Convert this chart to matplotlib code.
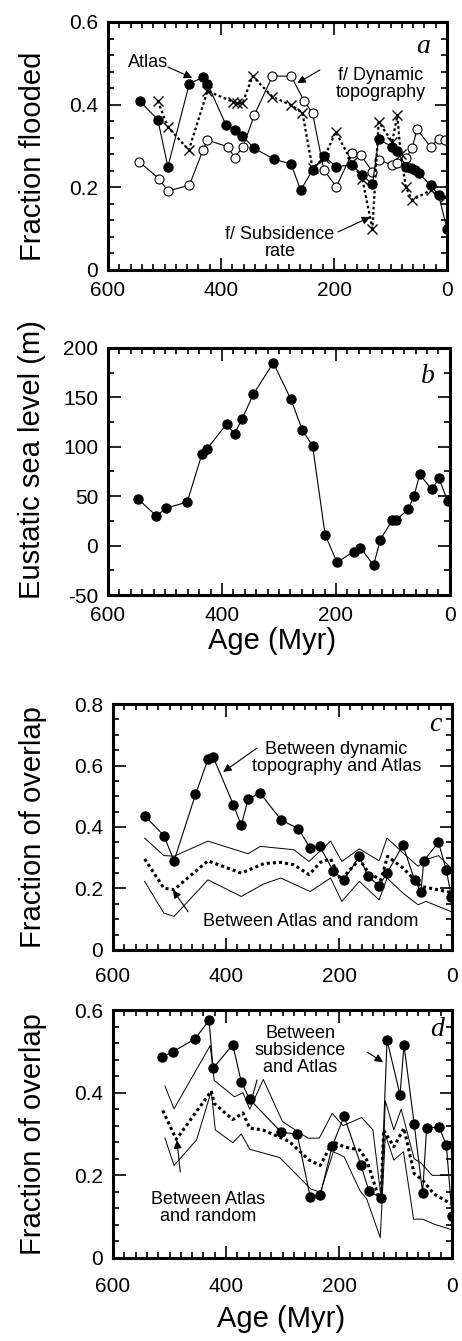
import matplotlib
matplotlib.use("Agg")
import matplotlib.pyplot as plt
from matplotlib.ticker import MultipleLocator, FuncFormatter

plt.rcParams["font.family"] = ["Liberation Sans", "DejaVu Sans"]

# --- panel a: fraction flooded ---
atlas_age = [544, 512, 494, 456, 432, 424, 391, 376, 362, 341, 306, 276, 259, 238,
             218, 196, 168, 150, 132, 121, 97, 88, 73, 64, 56, 50, 29, 15, 0]
atlas_frac = [0.409, 0.364, 0.250, 0.451, 0.466, 0.451, 0.350, 0.338, 0.324, 0.294,
              0.268, 0.256, 0.193, 0.242, 0.275, 0.250, 0.254, 0.230, 0.207, 0.316,
              0.298, 0.288, 0.250, 0.246, 0.242, 0.234, 0.205, 0.181, 0.100]
dyn_age = [545, 510, 494, 456, 432, 424, 388, 376, 361, 341, 309, 276, 253, 238,
           218, 196, 168, 153, 132, 121, 97, 88, 73, 62, 53, 29, 15, 3]
dyn_frac = [0.262, 0.221, 0.191, 0.205, 0.290, 0.314, 0.298, 0.272, 0.298, 0.375,
            0.469, 0.469, 0.409, 0.379, 0.242, 0.201, 0.283, 0.278, 0.238, 0.266,
            0.254, 0.258, 0.270, 0.294, 0.340, 0.298, 0.318, 0.314]
subs_age = [512, 494, 457, 424, 379, 371, 362, 344, 309, 276, 256, 238, 218, 197,
            168, 150, 132, 121, 97, 88, 82, 73, 62, 29, 3]
subs_frac = [0.409, 0.346, 0.290, 0.433, 0.407, 0.404, 0.403, 0.469, 0.419, 0.399,
             0.380, 0.246, 0.270, 0.334, 0.260, 0.220, 0.100, 0.358, 0.310, 0.374,
             0.280, 0.201, 0.169, 0.193, 0.177]

# --- panel b: eustatic sea level ---
sl_age = [547, 515, 498, 461, 435, 426, 392, 378, 365, 345, 310, 279, 259, 241,
          219, 198, 169, 157, 134, 122, 101, 94, 73, 63, 53, 32, 19, 4]
sl_level = [47, 30, 38, 44, 93, 98, 123, 113, 128, 153, 185, 148, 117, 101,
            11, -17, -6, -2, -20, 6, 26, 26, 37, 50, 72, 57, 68, 45]

# --- panel c: overlap dynamic topography vs Atlas ---
c_age = [544, 510, 492, 454, 432, 423, 387, 373, 361, 340, 302, 272, 251, 234,
         210, 191, 164, 149, 129, 115, 87, 66, 55, 50, 24, 10, 1]
c_overlap = [0.437, 0.372, 0.290, 0.506, 0.620, 0.629, 0.473, 0.405, 0.490, 0.511,
             0.422, 0.395, 0.331, 0.337, 0.256, 0.228, 0.305, 0.239, 0.209, 0.250,
             0.341, 0.226, 0.190, 0.290, 0.350, 0.259, 0.172]
c_mean_age = [544, 510, 492, 475, 432, 373, 333, 303, 280, 253, 233, 215, 197, 164,
              147, 126, 114, 87, 55, 31, 2]
c_mean = [0.296, 0.201, 0.196, 0.223, 0.290, 0.250, 0.281, 0.285, 0.277, 0.245,
          0.285, 0.297, 0.228, 0.294, 0.250, 0.228, 0.305, 0.267, 0.207, 0.198, 0.187]
c_hi_age = [544, 510, 492, 432, 361, 339, 280, 253, 215, 195, 164, 129, 115, 87,
            60, 46, 24, 2]
c_hi = [0.364, 0.307, 0.305, 0.354, 0.313, 0.337, 0.326, 0.288, 0.354, 0.288,
        0.329, 0.290, 0.364, 0.316, 0.272, 0.294, 0.307, 0.267]
c_lo_age = [544, 510, 492, 432, 373, 333, 303, 251, 215, 195, 164, 129, 115, 87,
            60, 46, 2]
c_lo = [0.223, 0.120, 0.109, 0.228, 0.174, 0.215, 0.234, 0.190, 0.234, 0.158,
        0.223, 0.163, 0.234, 0.185, 0.147, 0.158, 0.125]

# --- panel d: overlap subsidence vs Atlas ---
d_age = [514, 494, 455, 430, 423, 388, 373, 358, 302, 274, 251, 233, 212, 191,
         161, 147, 126, 115, 92, 85, 67, 52, 45, 23, 10, 0]
d_overlap = [0.486, 0.499, 0.530, 0.575, 0.459, 0.516, 0.426, 0.384, 0.304, 0.300,
             0.147, 0.153, 0.271, 0.343, 0.224, 0.162, 0.145, 0.527, 0.395, 0.515,
             0.325, 0.157, 0.314, 0.317, 0.273, 0.102]
d_mean_age = [512, 488, 426, 421, 388, 370, 358, 335, 288, 253, 233, 211, 191, 163,
              151, 126, 121, 103, 85, 67, 52, 32, 2]
d_mean = [0.357, 0.287, 0.404, 0.374, 0.335, 0.351, 0.314, 0.310, 0.282, 0.237,
          0.224, 0.282, 0.269, 0.261, 0.237, 0.131, 0.310, 0.269, 0.314, 0.204,
          0.188, 0.155, 0.131]
d_hi_age = [508, 492, 428, 421, 385, 370, 358, 334, 300, 255, 235, 212, 193, 160,
            140, 125, 118, 103, 90, 67, 55, 35, 2]
d_hi = [0.416, 0.361, 0.514, 0.430, 0.390, 0.400, 0.360, 0.432, 0.330, 0.290,
        0.290, 0.350, 0.320, 0.340, 0.310, 0.140, 0.380, 0.310, 0.360, 0.240,
        0.230, 0.200, 0.200]
d_lo_age = [508, 492, 452, 426, 419, 388, 373, 358, 305, 250, 233, 210, 191, 163,
            151, 127, 118, 103, 86, 68, 52, 32, 2]
d_lo = [0.290, 0.224, 0.286, 0.404, 0.310, 0.279, 0.300, 0.263, 0.243, 0.167,
        0.159, 0.257, 0.245, 0.163, 0.143, 0.049, 0.298, 0.237, 0.257, 0.094,
        0.094, 0.082, 0.069]

TICK_FS = 15
LABEL_FS = 21
NOTE_FS = 13


def fmt(v, pos):
    return "0" if abs(v) < 1e-9 else f"{v:g}"


def style_axes(ax, ylim, ymajor, yminor, xpad):
    ax.set_xlim(600, 0)
    ax.set_ylim(*ylim)
    ax.xaxis.set_major_locator(MultipleLocator(200))
    ax.xaxis.set_minor_locator(MultipleLocator(20))
    ax.yaxis.set_major_locator(MultipleLocator(ymajor))
    ax.yaxis.set_minor_locator(MultipleLocator(yminor))
    ax.yaxis.set_major_formatter(FuncFormatter(fmt))
    ax.tick_params(which="both", direction="in", top=True, right=True, width=1.2)
    ax.tick_params(which="major", length=9, labelsize=TICK_FS)
    ax.tick_params(which="minor", length=4.5)
    ax.tick_params(axis="x", pad=xpad)
    ax.tick_params(axis="y", pad=7)
    for s in ax.spines.values():
        s.set_linewidth(2.2)


def arrow(ax, text_xy, tip_xy, head=True):
    style = "-|>" if head else "-"
    ax.annotate("", xy=tip_xy, xytext=text_xy,
                arrowprops=dict(arrowstyle=style, color="k", lw=0.8,
                                mutation_scale=12, shrinkA=0, shrinkB=0))


fig = plt.figure(figsize=(4.62, 13.41), dpi=100)

# panel a
ax = fig.add_axes([0.2338, 0.7987, 0.7338, 0.1849])
ax.plot(dyn_age, dyn_frac, "-o", color="k", lw=0.8, ms=6.5, mfc="white", mew=0.8)
ax.plot(subs_age, subs_frac, "x", color="k", ls=(0, (1.2, 1.2)), lw=1.6, ms=6.5, mew=1.0)
ax.plot(atlas_age, atlas_frac, "-o", color="k", lw=0.8, ms=6.5)
style_axes(ax, (0, 0.6), 0.2, 0.04, 8)
ax.set_ylabel("Fraction flooded", fontsize=LABEL_FS)
ax.yaxis.set_label_coords(-0.18, 0.46)
ax.text(42, 0.54, "a", fontsize=20, style="italic", family="Liberation Serif", ha="center", va="center")
ax.text(529, 0.503, "Atlas", fontsize=NOTE_FS, ha="center", va="center")
arrow(ax, (494, 0.491), (451, 0.465))
ax.text(117, 0.45, "f/ Dynamic\ntopography", fontsize=NOTE_FS, ha="center", va="center", linespacing=1.0)
arrow(ax, (225, 0.484), (265, 0.452))
ax.text(296, 0.065, "f/ Subsidence\nrate", fontsize=NOTE_FS, ha="center", va="center", linespacing=1.0)
arrow(ax, (193, 0.092), (136, 0.128))

# panel b
ax = fig.add_axes([0.2338, 0.5563, 0.740, 0.1842])
ax.plot(sl_age, sl_level, "-o", color="k", lw=0.8, ms=6.5)
style_axes(ax, (-50, 200), 50, 25, 8)
ax.set_ylabel("Eustatic sea level (m)", fontsize=LABEL_FS)
ax.yaxis.set_label_coords(-0.18, 0.55)
ax.set_xlabel("Age (Myr)", fontsize=LABEL_FS)
ax.xaxis.set_label_coords(0.48, -0.13)
ax.text(39, 171, "b", fontsize=20, style="italic", family="Liberation Serif", ha="center", va="center")

# panel c
ax = fig.add_axes([0.2446, 0.2916, 0.7338, 0.1834])
ax.plot(c_hi_age, c_hi, "-", color="k", lw=0.7)
ax.plot(c_lo_age, c_lo, "-", color="k", lw=0.7)
ax.plot(c_mean_age, c_mean, color="k", ls=(0, (1, 1)), lw=2.2)
ax.plot(c_age, c_overlap, "-o", color="k", lw=0.8, ms=6.5)
style_axes(ax, (0, 0.8), 0.2, 0.05, 12)
ax.set_ylabel("Fraction of overlap", fontsize=LABEL_FS)
ax.yaxis.set_label_coords(-0.195, 0.5)
ax.text(30, 0.732, "c", fontsize=20, style="italic", family="Liberation Serif", ha="center", va="center")
ax.text(205, 0.624, "Between dynamic\ntopography and Atlas", fontsize=NOTE_FS, ha="center", va="center", linespacing=1.0)
arrow(ax, (345, 0.657), (405, 0.579))
ax.text(250, 0.091, "Between Atlas and random", fontsize=NOTE_FS, ha="center", va="center")
arrow(ax, (467, 0.124), (494, 0.195))

# panel d
ax = fig.add_axes([0.2446, 0.0619, 0.7338, 0.1849])
ax.plot(d_hi_age, d_hi, "-", color="k", lw=0.7)
ax.plot(d_lo_age, d_lo, "-", color="k", lw=0.7)
ax.plot(d_mean_age, d_mean, color="k", ls=(0, (1, 1)), lw=2.2)
ax.plot(d_age, d_overlap, "-o", color="k", lw=0.8, ms=6.5)
style_axes(ax, (0, 0.6), 0.2, 0.04, 14)
ax.set_ylabel("Fraction of overlap", fontsize=LABEL_FS)
ax.yaxis.set_label_coords(-0.195, 0.5)
ax.set_xlabel("Age (Myr)", fontsize=LABEL_FS)
ax.xaxis.set_label_coords(0.495, -0.19)
ax.text(27, 0.552, "d", fontsize=20, style="italic", family="Liberation Serif", ha="center", va="center")
ax.text(269, 0.503, "Between\nsubsidence\nand Atlas", fontsize=NOTE_FS, ha="center", va="center", linespacing=1.0)
arrow(ax, (150, 0.498), (122, 0.474))
arrow(ax, (345, 0.431), (354, 0.387), head=False)
ax.text(432, 0.121, "Between Atlas\nand random", fontsize=NOTE_FS, ha="center", va="center", linespacing=1.0)
arrow(ax, (481, 0.208), (487, 0.285))

fig.savefig("out.png", dpi=100)
plt.close(fig)
